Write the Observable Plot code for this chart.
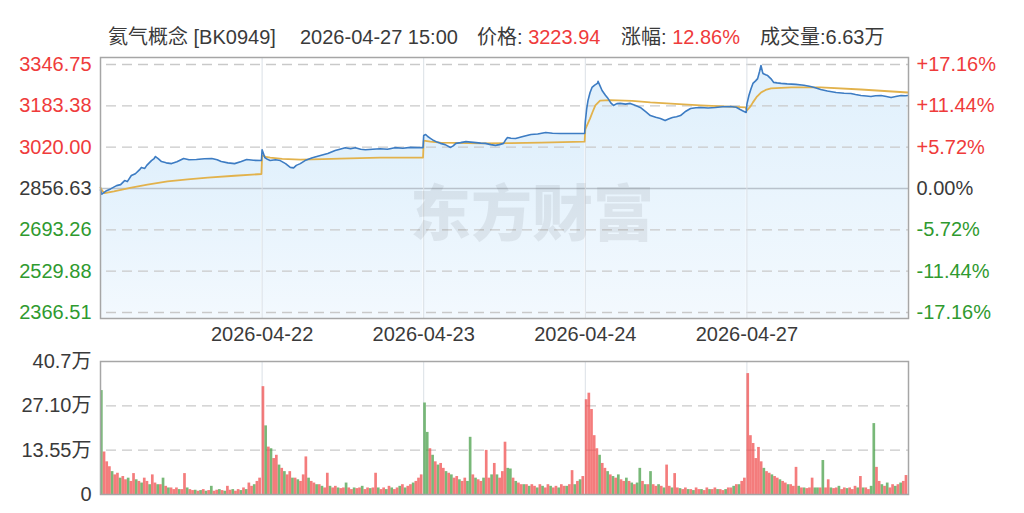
<!DOCTYPE html>
<html><head><meta charset="utf-8">
<script src="https://cdn.jsdelivr.net/npm/d3@7"></script>
<script src="https://cdn.jsdelivr.net/npm/@observablehq/plot@0.6"></script>
<style>
body{margin:0;background:#fff;}
#wrap{position:relative;width:1024px;height:513px;overflow:hidden;font-family:"Liberation Sans","Noto Sans CJK SC",sans-serif;}
.t{position:absolute;top:24px;font-size:20px;color:#3a3a3a;white-space:nowrap;line-height:26px;}
.r{color:#ef3b3b}
#main,#vol{position:absolute;left:0;}
#main{top:0} #vol{top:352px}
#wm{position:absolute;left:410px;top:165px;font-family:"Noto Sans CJK SC",sans-serif;font-weight:900;font-size:61px;color:rgba(0,0,0,0.065);white-space:nowrap;}
</style></head><body>
<div id="wrap">
  <div class="t" style="left:108px">氦气概念 [BK0949]</div>
  <div class="t" style="left:300px">2026-04-27 15:00</div>
  <div class="t" style="left:477px">价格: <span class="r">3223.94</span></div>
  <div class="t" style="left:621px">涨幅: <span class="r">12.86%</span></div>
  <div class="t" style="left:760px">成交量:6.63万</div>
  <div id="main"></div>
  <div id="vol"></div>
  <div id="wm">东方财富</div>
</div>
<script>
// ---------- data ----------
const days = ["2026-04-21","2026-04-22","2026-04-23","2026-04-24","2026-04-27"];
const dateLabels = ["2026-04-22","2026-04-23","2026-04-24","2026-04-27"];
const minutesPerDay = 241;
const prevClose = 2856.63;
const priceTicks = [3346.75,3183.38,3020.00,2856.63,2693.26,2529.88,2366.51];
const pctLabels = ["+17.16%","+11.44%","+5.72%","0.00%","-5.72%","-11.44%","-17.16%"];
const volTicks = [40.7,27.10,13.55,0];
const volLabels = ["40.7万","27.10万","13.55万","0"];

// price line: [minute from open, price]
const price1 = [[0,2851],[2,2834],[5,2840],[9,2848],[15,2855],[24,2868],[30,2872],[36,2888],[40,2884],[46,2908],[52,2915],[58,2930],[61,2940],[66,2936],[69,2948],[76,2967],[80,2975],[82,2983],[86,2975],[91,2963],[98,2958],[106,2955],[114,2962],[124,2975],[132,2970],[143,2971],[155,2974],[166,2975],[174,2970],[180,2963],[190,2958],[200,2955],[210,2963],[218,2971],[228,2968],[240,2967]];
const price2 = [[0,3010],[2,2995],[4,2979],[8,2972],[12,2967],[20,2970],[27,2967],[35,2955],[42,2940],[47,2938],[51,2948],[57,2955],[64,2967],[75,2978],[87,2987],[98,2995],[109,3007],[116,3012],[124,3018],[132,3014],[139,3018],[147,3012],[154,3010],[165,3012],[176,3014],[187,3012],[198,3018],[210,3016],[221,3019],[232,3018],[240,3018]];
const price3 = [[0,3066],[3,3070],[6,3062],[10,3055],[15,3046],[20,3040],[25,3035],[32,3030],[40,3019],[44,3025],[48,3035],[55,3038],[63,3042],[70,3040],[78,3038],[85,3036],[92,3035],[100,3030],[107,3027],[113,3030],[119,3035],[122,3048],[125,3058],[130,3055],[137,3054],[148,3062],[160,3070],[170,3072],[182,3078],[192,3075],[204,3074],[220,3074],[240,3074]];
const price4 = [[0,3120],[2,3170],[4,3204],[7,3235],[10,3256],[14,3265],[18,3272],[19,3280],[22,3262],[25,3244],[30,3225],[34,3212],[38,3195],[42,3185],[47,3192],[52,3193],[60,3190],[67,3193],[75,3185],[82,3177],[90,3160],[97,3145],[105,3138],[112,3133],[119,3125],[125,3132],[130,3137],[136,3140],[142,3145],[150,3162],[157,3173],[165,3176],[172,3177],[183,3175],[194,3177],[205,3180],[216,3181],[225,3178],[231,3169],[236,3162],[240,3157]];
const price5 = [[0,3190],[3,3224],[6,3250],[9,3272],[13,3282],[16,3291],[19,3320],[21,3343],[23,3320],[24,3311],[28,3306],[31,3303],[36,3290],[40,3276],[45,3274],[51,3272],[60,3270],[73,3268],[85,3265],[95,3260],[102,3255],[110,3248],[120,3242],[133,3236],[145,3233],[155,3232],[162,3228],[170,3224],[178,3222],[185,3220],[192,3223],[200,3224],[208,3220],[215,3216],[222,3220],[230,3224],[236,3223],[240,3223.94]];

// average price line
const avg1 = [[0,2860],[3,2846],[6,2838],[20,2845],[46,2860],[70,2872],[100,2885],[130,2893],[160,2900],[200,2907],[240,2914]];
const avg2 = [[0,2987],[6,2982],[12,2979],[30,2974],[57,2971],[90,2973],[116,2975],[176,2979],[240,2979]];
const avg3 = [[0,3046],[10,3042],[25,3038],[85,3035],[130,3036],[175,3038],[240,3042]];
const avg4 = [[0,3090],[4,3115],[7,3133],[11,3160],[15,3185],[22,3204],[37,3206],[70,3203],[97,3197],[140,3190],[172,3185],[239,3177]];
const avg5 = [[0,3165],[5,3180],[9,3197],[15,3220],[21,3236],[28,3246],[36,3252],[66,3256],[110,3256],[170,3248],[240,3236]];

// volume per 4-minute bin, in 万 (positive = up / red, negative = down / green)
const vol1 = [-31.8,13,10,8.5,-7,6,6.5,-5,5.5,4.5,-5,4,6.4,-4.5,4,-3.5,5,4,-3,6,3.5,-3,3,-5,2.5,-2,2,1.5,2,-1.5,1.5,6.4,-2,1.5,1.2,-1.3,1,-1.2,1.5,-1,1.2,-2.5,1,1.3,-1.5,1.2,-1,2.5,1.3,-1.5,1,1.5,-1.2,2,-1.5,3.5,2.5,-3,4,5];
const vol2 = [33,-21,14.5,-14,11,12,-9,8,-7,6,7,-5,5,-4.5,4,6,11.5,-5,4,3.5,-3,3,-2.5,2,6.5,-2.5,2,2.5,-2,1.8,2,-3.5,2,1.5,-2,1.8,2,-2.5,1.5,2,-1.8,2,6.5,-2,1.5,2,-1.5,2.5,-2,1.5,2,-2.5,3,-2,2.5,3,-3.5,4,5,6];
const vol3 = [-28,-19,14,-12,10,-9,9.5,8,-7,6.5,-6,5,5.5,-4.5,4,5,-4,-17.5,6,-5,4.5,4,-5,13.5,5,-6,9.5,-6,5,7,16,-8,-7.8,5,-4,3.5,3,-3,3,-2.5,3,2.5,-2,3,-2.5,2,3,-2.5,2,2.5,-2,3,2.5,-2.5,3,7.3,-3,4,-4.5,5.5];
const vol4 = [29,31,26,18,14,-12,9.5,8,-7,6,-5.5,5,-6,4.5,4,-5,4,-3.5,3,-3.5,-8,4,-3,3,-7,3,2.5,-3,2.5,-2,9,2.5,-2,6.4,2,-1.8,1.5,2,-1.5,1.5,-1.2,2,1.5,-1.5,1.2,2,-1.5,1.5,2,-1.5,1.5,1.2,-1.5,2,2,-2.5,3,-3,4,5];
const vol5 = [37,18,15.6,11,14.4,10,-8,7,6.5,-6,5.5,5,-4.5,4,3.5,-3,3,2.5,8.3,-2.5,2,-2,1.8,2,5,-2,-2,2,-10.4,2,4.5,-2,1.8,2,-2.5,1.5,2,-1.8,2,1.5,2.5,-2,5.5,-2,2,1.5,-2.5,-21.7,8.3,4,-3,2.5,-3.5,2,3,-2.5,3,-3.5,4,5.8];

// ---------- build tables ----------
const priceDays = [price1,price2,price3,price4,price5];
const avgDays = [avg1,avg2,avg3,avg4,avg5];
const volDays = [vol1,vol2,vol3,vol4,vol5];
const price = priceDays.flatMap((arr,d)=>arr.map(([m,p])=>({x:d*minutesPerDay+m, p, day:days[d]})));
const avg = avgDays.flatMap((arr,d)=>arr.map(([m,p])=>({x:d*minutesPerDay+m, p, day:days[d]})));
const vol = volDays.flatMap((arr,d)=>arr.map((v,i)=>({x1:d*minutesPerDay+i*4, x2:d*minutesPerDay+i*4+4, v:Math.abs(v), up:v>0})));
const boundaries = dateLabels.map((_,i)=>(i+1)*minutesPerDay);
const xDomain = [0, days.length*minutesPerDay];

const RED = "#ef3b3b", GREEN = "#2f9a2f", GRAY = "#3a3a3a";
const FONT = "Liberation Sans, Noto Sans CJK SC, sans-serif";
const yMin = 2342.8, yMax = 3374.4;
const tickRows = priceTicks.map((v,i)=>({v, pct:pctLabels[i], label:v.toFixed(2)}));

const main = Plot.plot({
  width:1024, height:352,
  marginLeft:100, marginRight:116, marginTop:57, marginBottom:34,
  x:{domain:xDomain, axis:null},
  y:{domain:[yMin,yMax], axis:null},
  style:{fontFamily:FONT, fontSize:"20px", background:"transparent", overflow:"visible"},
  marks:[
    Plot.areaY(price, {x:"x", y1:yMin, y2:"p", z:"day", fill:"url(#areaGrad)", curve:"linear"}),
    Plot.ruleY(priceTicks.filter(v=>v!==prevClose), {stroke:"#c9c9c9", strokeWidth:1.3, strokeDasharray:"10,6", strokeDashoffset:10}),
    Plot.ruleY([prevClose], {stroke:"#b9c2cc", strokeWidth:1.3}),
    Plot.ruleX(boundaries, {stroke:"#dbe0e6", strokeWidth:1}),
    Plot.lineY(avg, {x:"x", y:"p", stroke:"#e2b24c", strokeWidth:1.8}),
    Plot.lineY(price, {x:"x", y:"p", stroke:"#3d7cc3", strokeWidth:1.6}),
    Plot.frame({stroke:"#a6a6a6", strokeWidth:1.5}),
    Plot.text(tickRows.filter(d=>d.v>prevClose), {y:"v", text:"label", frameAnchor:"left", textAnchor:"end", dx:-9, fill:RED}),
    Plot.text(tickRows.filter(d=>d.v===prevClose), {y:"v", text:"label", frameAnchor:"left", textAnchor:"end", dx:-9, fill:GRAY}),
    Plot.text(tickRows.filter(d=>d.v<prevClose), {y:"v", text:"label", frameAnchor:"left", textAnchor:"end", dx:-9, fill:GREEN}),
    Plot.text(tickRows.filter(d=>d.v>prevClose), {y:"v", text:"pct", frameAnchor:"right", textAnchor:"start", dx:8, fill:RED}),
    Plot.text(tickRows.filter(d=>d.v===prevClose), {y:"v", text:"pct", frameAnchor:"right", textAnchor:"start", dx:8, fill:GRAY}),
    Plot.text(tickRows.filter(d=>d.v<prevClose), {y:"v", text:"pct", frameAnchor:"right", textAnchor:"start", dx:8, fill:GREEN}),
    Plot.text(dateLabels, {x:(d,i)=>boundaries[i], text:d=>d, frameAnchor:"bottom", dy:22, fill:GRAY})
  ]
});
const defs = d3.select(main).insert("defs", ":first-child");
const g = defs.append("linearGradient").attr("id","areaGrad").attr("x1",0).attr("y1",0).attr("x2",0).attr("y2",1);
g.append("stop").attr("offset","0%").attr("stop-color","#e0f0fc");
g.append("stop").attr("offset","100%").attr("stop-color","#f3f9fe");
document.getElementById("main").appendChild(main);

const volRows = volTicks.map((v,i)=>({v, label:volLabels[i]}));
const volPlot = Plot.plot({
  width:1024, height:161,
  marginLeft:100, marginRight:116, marginTop:9, marginBottom:19,
  x:{domain:xDomain, axis:null},
  y:{domain:[0,40.7], axis:null},
  style:{fontFamily:FONT, fontSize:"20px", background:"transparent", overflow:"visible"},
  marks:[
    Plot.ruleY([27.10,13.55], {stroke:"#c9c9c9", strokeWidth:1.3, strokeDasharray:"10,6", strokeDashoffset:10}),
    Plot.ruleX(boundaries, {stroke:"#dbe0e6", strokeWidth:1}),
    Plot.rect(vol.filter(d=>!d.up), {x1:"x1", x2:"x2", y1:0, y2:"v", fill:"#3f9a3f", fillOpacity:0.7}),
    Plot.rect(vol.filter(d=>d.up), {x1:"x1", x2:"x2", y1:0, y2:"v", fill:"#f04a4a", fillOpacity:0.72}),
    Plot.frame({stroke:"#a6a6a6", strokeWidth:1.5}),
    Plot.text(volRows, {y:"v", text:"label", frameAnchor:"left", textAnchor:"end", dx:-9, fill:GRAY})
  ]
});
document.getElementById("vol").appendChild(volPlot);
</script>
</body></html>
